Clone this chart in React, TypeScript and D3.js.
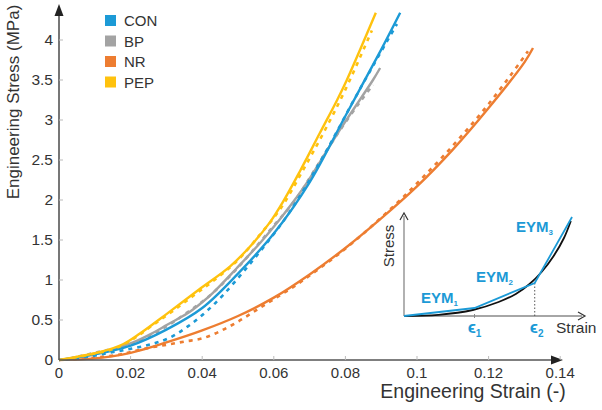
import React from "react";
import * as d3 from "d3";

type P = [number, number];

const xTicks = [0, 0.02, 0.04, 0.06, 0.08, 0.1, 0.12, 0.14];
const yTicks = [0, 0.5, 1, 1.5, 2, 2.5, 3, 3.5, 4];
const seriesNames = ["CON", "BP", "NR", "PEP"];
const seriesColors = ["#1c9ad6", "#a3a3a3", "#ed7d31", "#ffc20e"];

const conModel: P[] = [[0,0],[0.01,0.07],[0.02,0.18],[0.03,0.38],[0.04,0.65],[0.05,1.08],[0.06,1.58],[0.07,2.22],[0.08,3.05],[0.09,3.88],[0.0953,4.34]];
const conExp: P[] = [[0.002,0.01],[0.008,0.04],[0.014,0.09],[0.02,0.14],[0.026,0.2],[0.031,0.28],[0.036,0.42],[0.041,0.6],[0.046,0.82],[0.052,1.13],[0.058,1.46],[0.064,1.82],[0.07,2.25],[0.076,2.72],[0.082,3.22],[0.088,3.7],[0.0944,4.2]];
const bpModel: P[] = [[0,0],[0.0115,0.09],[0.0207,0.22],[0.0263,0.34],[0.0302,0.44],[0.0358,0.58],[0.0394,0.7],[0.043,0.84],[0.0497,1.15],[0.0561,1.46],[0.0617,1.76],[0.0665,2.04],[0.0693,2.22],[0.0785,2.88],[0.0877,3.5],[0.0897,3.65]];
const bpExp: P[] = [[0.003,0.02],[0.008,0.07],[0.013,0.12],[0.018,0.17],[0.024,0.27],[0.03,0.42],[0.036,0.6],[0.042,0.8],[0.048,1.06],[0.054,1.36],[0.06,1.68],[0.066,2.0],[0.072,2.42],[0.078,2.84],[0.084,3.22],[0.0877,3.44]];
const nrModel: P[] = [[0,0],[0.01,0.02],[0.02,0.09],[0.03,0.22],[0.04,0.37],[0.05,0.55],[0.06,0.78],[0.07,1.07],[0.08,1.4],[0.09,1.77],[0.1,2.17],[0.11,2.63],[0.12,3.15],[0.13,3.72],[0.1324,3.9]];
const nrExp: P[] = [[0.004,0.01],[0.01,0.03],[0.016,0.06],[0.02,0.1],[0.025,0.15],[0.03,0.19],[0.035,0.23],[0.04,0.27],[0.045,0.36],[0.05,0.48],[0.055,0.62],[0.06,0.76],[0.066,0.93],[0.072,1.12],[0.078,1.32],[0.084,1.54],[0.09,1.78],[0.096,2.03],[0.102,2.3],[0.108,2.58],[0.114,2.88],[0.12,3.2],[0.126,3.55],[0.131,3.86]];
const pepModel: P[] = [[0,0],[0.0115,0.1],[0.018,0.2],[0.0226,0.33],[0.0302,0.58],[0.0394,0.89],[0.0478,1.17],[0.0542,1.46],[0.0589,1.72],[0.0626,1.98],[0.0673,2.36],[0.0729,2.84],[0.0777,3.25],[0.0804,3.5],[0.0885,4.34]];
const pepExp: P[] = [[0.004,0.03],[0.01,0.08],[0.016,0.15],[0.021,0.27],[0.026,0.43],[0.032,0.62],[0.038,0.82],[0.044,1.02],[0.05,1.25],[0.056,1.56],[0.062,1.9],[0.068,2.36],[0.074,2.85],[0.08,3.38],[0.0874,4.12]];

// Inset schematic (normalized units)
const insetCurve: P[] = [[0,0],[0.2,0.012],[0.4,0.06],[0.55,0.14],[0.65,0.22],[0.73,0.32],[0.8,0.44],[0.87,0.6],[0.93,0.78],[0.97,0.95]];
const insetFit: P[] = [[0,0],[0.41,0.08],[0.76,0.33],[0.977,0.99]];
const insetEps = [0.41, 0.76];

const FONT = "Liberation Sans, Arial, sans-serif";
const AXIS = "#555555";

export default function App() {
  const x = d3.scaleLinear().domain([0, 0.14]).range([59, 560.2]);
  const y = d3.scaleLinear().domain([0, 4]).range([360, 40]);
  const line = d3.line<P>().x(d => x(d[0])).y(d => y(d[1])).curve(d3.curveCatmullRom.alpha(0.5));

  const ix = d3.scaleLinear().domain([0, 1]).range([404, 576]);
  const iy = d3.scaleLinear().domain([0, 1]).range([316, 216]);
  const iline = d3.line<P>().x(d => ix(d[0])).y(d => iy(d[1]));
  const icurve = d3.line<P>().x(d => ix(d[0])).y(d => iy(d[1])).curve(d3.curveCatmullRom.alpha(0.5));

  const models = [conModel, bpModel, nrModel, pepModel];
  const exps = [conExp, bpExp, nrExp, pepExp];
  const order = [2, 1, 0, 3];

  const eps2y = iy(insetFit[2][1]);

  return (
    <svg width={602} height={410} style={{ position: "absolute", left: 0, top: 0, background: "#fff" }} fontFamily={FONT}>
      <rect width={602} height={410} fill="#fff" />
      {order.map(i => (
        <g key={seriesNames[i]}>
          <path d={line(exps[i]) || ""} fill="none" stroke={seriesColors[i]} strokeWidth={2.6} strokeDasharray="4,5" />
          <path d={line(models[i]) || ""} fill="none" stroke={seriesColors[i]} strokeWidth={2.4} />
        </g>
      ))}

      <line x1={x(0)} x2={557} y1={y(0)} y2={y(0)} stroke={AXIS} strokeWidth={1.6} />
      <path d={`M563,${y(0)} L551,${y(0) - 4.5} L551,${y(0) + 4.5} Z`} fill="#222" />
      <line x1={x(0)} x2={x(0)} y1={y(0)} y2={10} stroke={AXIS} strokeWidth={1.6} />
      <path d={`M${x(0)},4 L${x(0) - 4.5},16 L${x(0) + 4.5},16 Z`} fill="#222" />

      {xTicks.map(t => (
        <g key={"x" + t}>
          {t > 0 && <line x1={x(t)} x2={x(t)} y1={y(0)} y2={y(0) - 4} stroke="#bbb" strokeWidth={1} />}
          <text x={x(t)} y={y(0) + 17.5} textAnchor="middle" fontSize={15} fill="#333">{String(t)}</text>
        </g>
      ))}
      {yTicks.map(t => (
        <g key={"y" + t}>
          {t > 0 && <line x1={x(0)} x2={x(0) + 4} y1={y(t)} y2={y(t)} stroke="#bbb" strokeWidth={1} />}
          <text x={53} y={y(t) + 5} textAnchor="end" fontSize={15.5} fill="#333">{String(t)}</text>
        </g>
      ))}

      <text x={473} y={398} textAnchor="middle" fontSize={19.5} fill="#333">Engineering Strain (-)</text>
      <text transform="translate(19,102) rotate(-90)" textAnchor="middle" fontSize={17} fill="#333">Engineering Stress (MPa)</text>

      {seriesNames.map((n, i) => (
        <g key={"lg" + n}>
          <rect x={105} y={15 + i * 20.5} width={11} height={11} fill={seriesColors[i]} />
          <text x={124} y={26 + i * 20.5} fontSize={15} fill="#333">{n}</text>
        </g>
      ))}

      <line x1={ix(0)} x2={ix(0)} y1={iy(0)} y2={216} stroke="#888" strokeWidth={1.3} />
      <path d={`M${ix(0) - 4},220 L${ix(0)},213 L${ix(0) + 4},220`} fill="none" stroke="#333" strokeWidth={1.2} />
      <line x1={ix(0)} x2={582} y1={iy(0)} y2={iy(0)} stroke="#888" strokeWidth={1.3} />
      <path d={`M578,${iy(0) - 4} L585,${iy(0)} L578,${iy(0) + 4}`} fill="none" stroke="#333" strokeWidth={1.2} />
      <line x1={ix(insetEps[1])} x2={ix(insetEps[1])} y1={eps2y} y2={iy(0)} stroke="#555" strokeWidth={1} strokeDasharray="1.5,2" />
      <line x1={ix(insetEps[0])} x2={ix(insetEps[0])} y1={iy(0) - 2} y2={iy(0) + 2} stroke="#888" strokeWidth={1} />
      <path d={icurve(insetCurve) || ""} fill="none" stroke="#111" strokeWidth={1.8} />
      <path d={iline(insetFit) || ""} fill="none" stroke="#1c9ad6" strokeWidth={1.8} />
      <text transform="translate(394,246) rotate(-90)" textAnchor="middle" fontSize={15} fill="#333">Stress</text>
      <text x={556} y={333} fontSize={15.5} fill="#333">Strain</text>
      <text x={ix(insetEps[0])} y={333} textAnchor="middle" fontSize={17} fontWeight="bold" fill="#1c9ad6">ϵ<tspan fontSize={10} dy={4}>1</tspan></text>
      <text x={ix(insetEps[1]) + 2} y={333} textAnchor="middle" fontSize={17} fontWeight="bold" fill="#1c9ad6">ϵ<tspan fontSize={10} dy={4}>2</tspan></text>
      <text x={421} y={303} fontSize={15} fontWeight="bold" fill="#1c9ad6">EYM<tspan fontSize={8} dy={3}>1</tspan></text>
      <text x={476} y={282} fontSize={15} fontWeight="bold" fill="#1c9ad6">EYM<tspan fontSize={8} dy={3}>2</tspan></text>
      <text x={516} y={232} fontSize={15} fontWeight="bold" fill="#1c9ad6">EYM<tspan fontSize={8} dy={3}>3</tspan></text>
    </svg>
  );
}
